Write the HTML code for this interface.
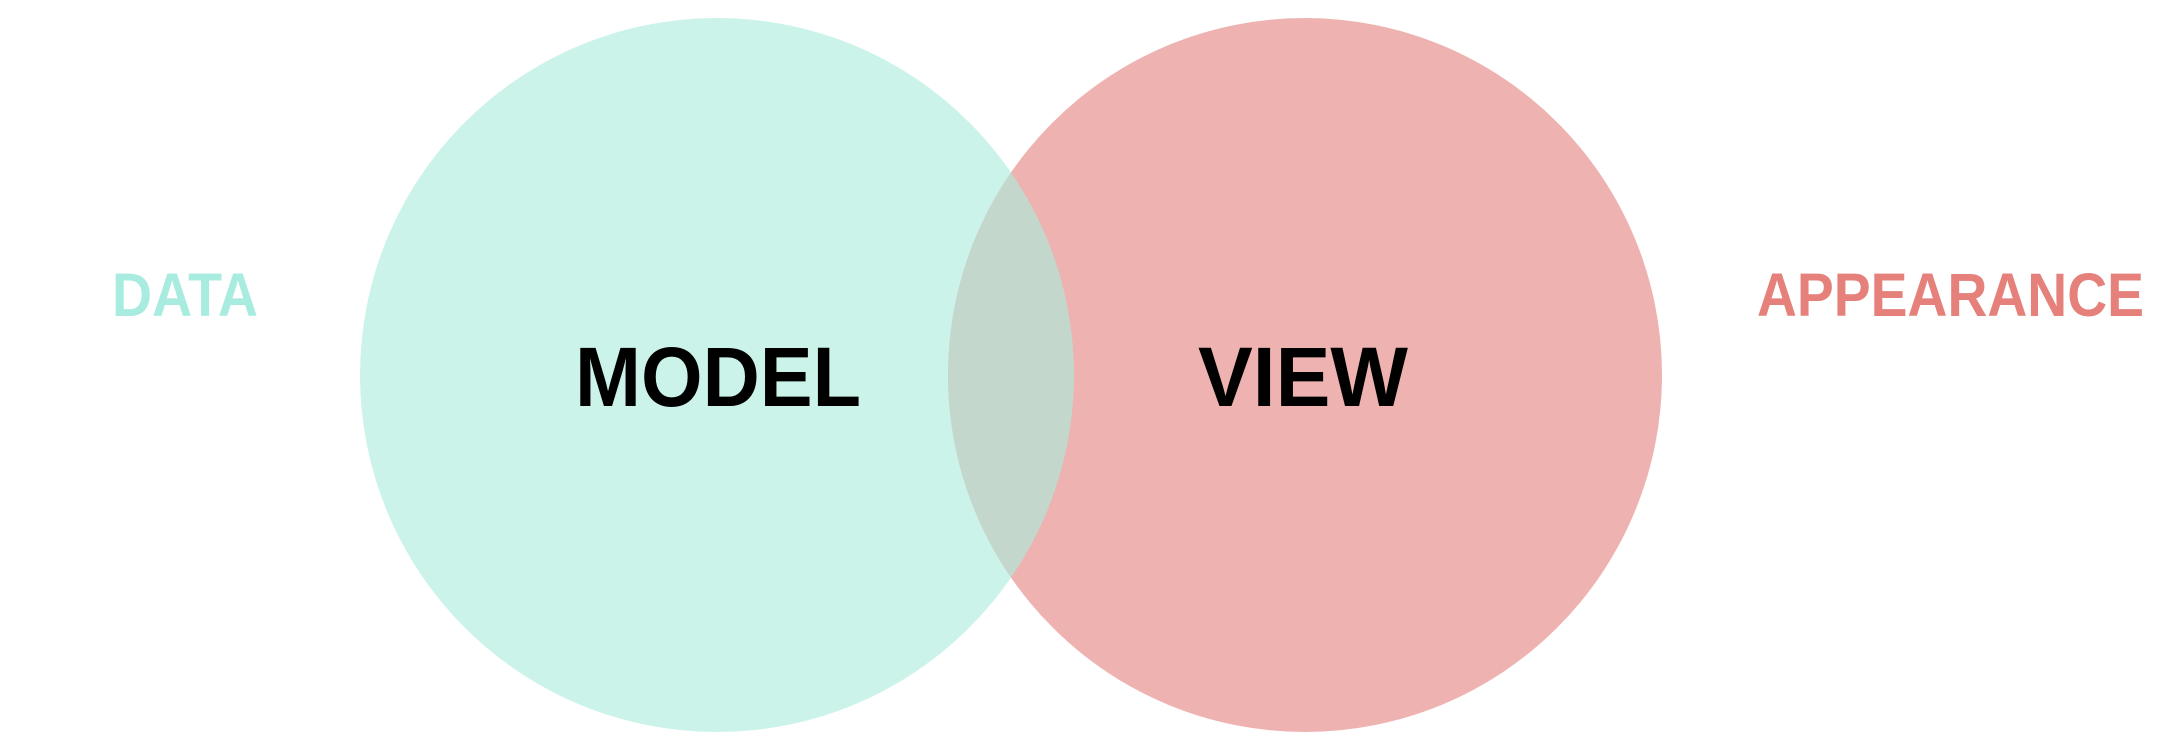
<!DOCTYPE html>
<html><head><meta charset="utf-8"><style>html,body{margin:0;padding:0;background:#fff;}svg{display:block}</style></head>
<body>
<svg width="2160" height="752" viewBox="0 0 2160 752" xmlns="http://www.w3.org/2000/svg">
<defs><clipPath id="c"><circle cx="717" cy="375" r="357"/></clipPath></defs>
<circle cx="717" cy="375" r="357" fill="#cbf3ea"/>
<circle cx="1305" cy="375" r="357" fill="#eeb3b0"/>
<circle cx="1305" cy="375" r="357" fill="#c4d7cd" clip-path="url(#c)"/>
<g font-family="Liberation Sans, sans-serif" font-weight="bold">
<text x="112" y="316" font-size="61" fill="#a8ece0" textLength="146" lengthAdjust="spacingAndGlyphs">DATA</text>
<text x="1757" y="316" font-size="61" fill="#e5807b" textLength="387" lengthAdjust="spacingAndGlyphs">APPEARANCE</text>
<text x="575" y="406" font-size="84" fill="#000" textLength="286" lengthAdjust="spacingAndGlyphs">MODEL</text>
<text x="1198" y="406" font-size="84" fill="#000" textLength="210" lengthAdjust="spacingAndGlyphs">VIEW</text>
</g>
</svg>
</body></html>
